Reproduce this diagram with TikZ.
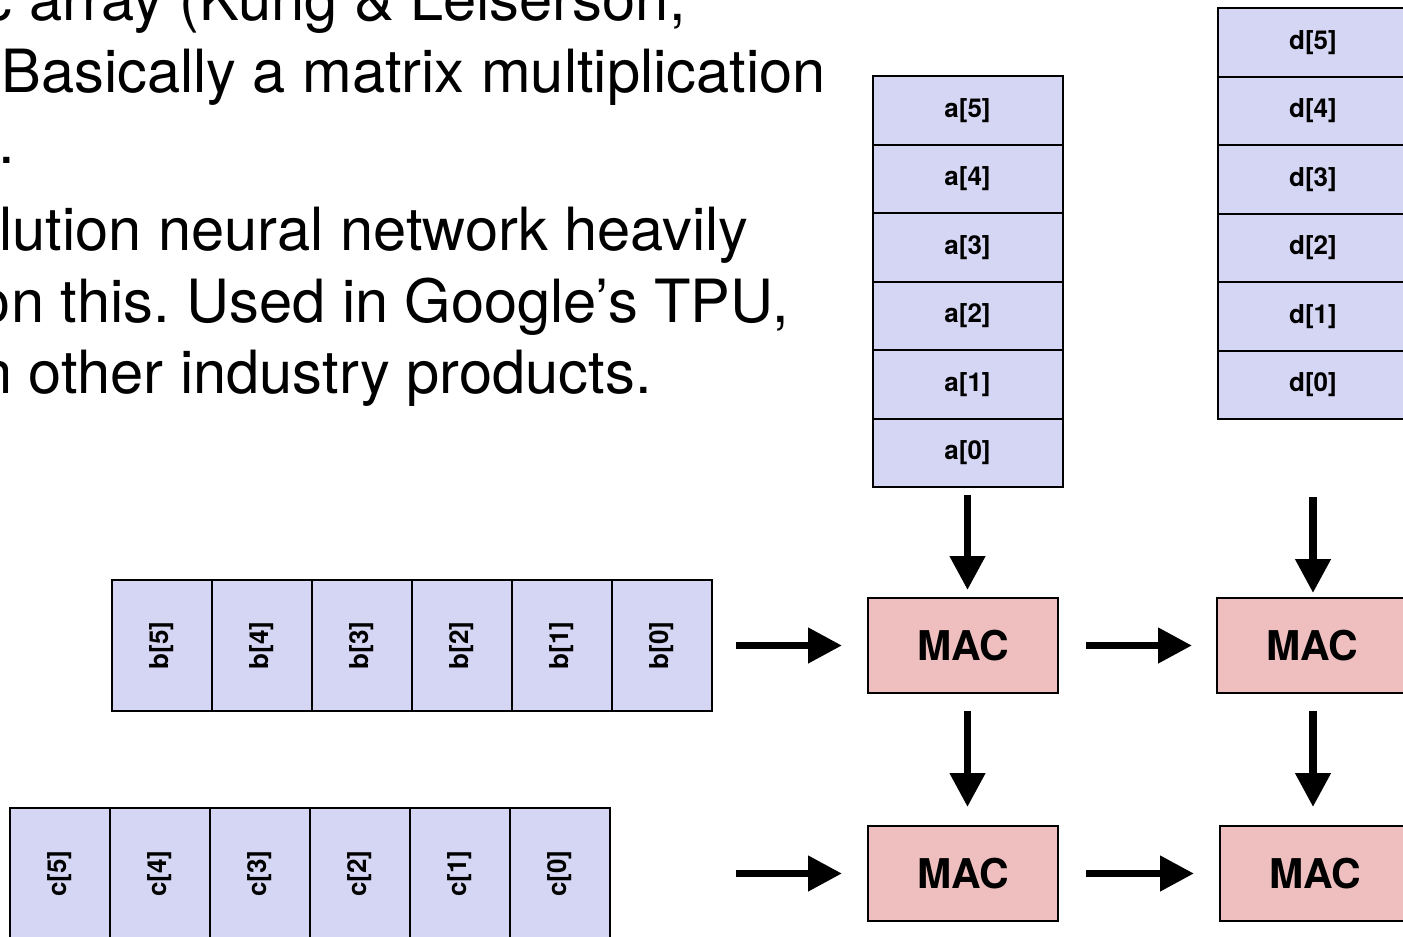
\documentclass[tikz,border=0pt]{standalone}
\usepackage{fontspec}
\setmainfont{TeX Gyre Heros}
\usetikzlibrary{arrows.meta}
\definecolor{cellblue}{RGB}{213,214,243}
\definecolor{macred}{RGB}{239,191,191}
\frenchspacing

\begin{document}
\begin{tikzpicture}[x=0.5pt,y=-0.5pt,
	txt/.style={inner sep=0pt,anchor=base east,font=\fontsize{29.8}{35}\selectfont},
	cell/.style={draw,line width=1pt,fill=cellblue,inner sep=0pt,font=\fontsize{13}{15}\selectfont\bfseries},
	mac/.style={draw,line width=1pt,fill=macred,minimum width=95pt,minimum height=47.5pt,font=\fontsize{20.5}{24}\selectfont\bfseries},
	arr/.style={line width=3.8pt,-{Triangle[length=17pt,width=17pt]}}]
\useasboundingbox (0,0) rectangle (1403,937);
\clip (0,0) rectangle (1403,937);

\node[txt] (l1) at (686,20) {c array (Kung \& Leiserson,};
\node[txt,anchor=base west] (l2) at (1,92) {Basically a matrix multiplication};
\node[txt] (l3) at (15,163) {.};
\node[txt,anchor=base west] (l4) at (-1,250) {lution neural network heavily};
\node[txt] (l5) at (789,322) {on this. Used in Google’s TPU,};
\node[txt] (l6) at (652,393) {n other industry products.};

\foreach \i [count=\k from 0] in {5,4,3,2,1,0}{
	\node[cell,minimum width=95pt,minimum height=34.25pt] (a\i) at (967.5,110.25+68.5*\k) {a[\i]};
	\node[cell,minimum width=95pt,minimum height=34.25pt] (d\i) at (1313,42.25+68.5*\k) {d[\i]};
	\node[cell,rotate=90,minimum width=65.5pt,minimum height=50pt] (b\i) at (162+100*\k,645.5) {b[\i]};
	\node[cell,rotate=90,minimum width=65.5pt,minimum height=50pt] (c\i) at (60+100*\k,873.5) {c[\i]};
}

\node[mac] (m11) at (963,645.5) {MAC};
\node[mac] (m12) at (1312,645.5) {MAC};
\node[mac] (m21) at (963,873.5) {MAC};
\node[mac] (m22) at (1315,873.5) {MAC};

\coordinate (cin) at (736,873.5);

\draw[arr,shorten <=3.5pt,shorten >=3.5pt] (a0) -- (a0 |- m11.north);
\draw[arr,shorten <=38.5pt,shorten >=2pt] (d0) -- (d0 |- m12.north);
\draw[arr,shorten <=8.5pt,shorten >=9pt] (m11.south -| a0) -- (m21.north -| a0);
\draw[arr,shorten <=8.5pt,shorten >=9pt] (m12.south -| d0) -- (m22.north -| d0);

\draw[arr,shorten <=11.5pt,shorten >=12.5pt] (b0) -- (m11);
\draw[arr,shorten >=12.5pt] (cin) -- (m21);
\draw[arr,shorten <=13.5pt,shorten >=12pt] (m11) -- (m12);
\draw[arr,shorten <=13.5pt,shorten >=12.5pt] (m21) -- (m22);

\end{tikzpicture}
\end{document}
